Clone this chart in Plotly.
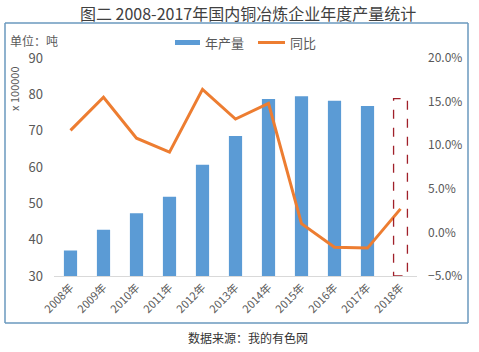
import plotly.graph_objects as go

years = ["2008年", "2009年", "2010年", "2011年", "2012年", "2013年",
         "2014年", "2015年", "2016年", "2017年", "2018年"]
production = [37.0, 42.7, 47.3, 51.8, 60.6, 68.5, 78.7, 79.5, 78.2, 76.8]  # x 100000 吨
yoy = [0.117, 0.155, 0.108, 0.092, 0.164, 0.130, 0.148, 0.010, -0.017, -0.018, 0.027]
estimate_2018 = 78.8

BLUE = "#5B9BD5"
ORANGE = "#ED7D31"
GRAY = "#595959"
CJK = "Noto Sans CJK SC"

W, H = 479, 352
L, R, T, B = 54, 62, 58, 76
pw, ph = W - L - R, H - T - B


def px(x):
    return (x - L) / pw


def py(y):
    return (H - B - y) / ph


fig = go.Figure()
fig.add_trace(go.Bar(x=years[:len(production)], y=production, marker_color=BLUE,
                     marker_line_width=0, width=0.4, name="年产量", yaxis="y"))
fig.add_trace(go.Scatter(x=years, y=yoy, mode="lines", line=dict(color=ORANGE, width=3),
                         name="同比", yaxis="y2"))

fig.update_layout(
    width=W, height=H,
    margin=dict(l=L, r=R, t=T, b=B),
    paper_bgcolor="white", plot_bgcolor="white",
    showlegend=False,
    font=dict(family=CJK, color=GRAY, size=13),
    xaxis=dict(categoryorder="array", categoryarray=years, range=[-0.5, len(years) - 0.5],
               tickangle=-45, tickfont=dict(size=11, color=GRAY), showgrid=False,
               showline=True, linecolor="#D9D9D9", linewidth=1, ticks="", zeroline=False),
    yaxis=dict(range=[30, 90], dtick=10, showgrid=False, zeroline=False, showline=False,
               tickfont=dict(size=13, color=GRAY), ticklabelstandoff=10),
    yaxis2=dict(range=[-0.05, 0.20], dtick=0.05, tickformat=".1%", overlaying="y", side="right",
                showgrid=False, zeroline=False, showline=False,
                tickfont=dict(size=12, color=GRAY), ticklabelstandoff=10),
    bargap=0.6,
)

frame_style = dict(color="#6A98BE", width=1.5)
fx0, fx1, fy0, fy1 = px(5), px(468), py(323), py(23)
shapes = [
    # outer frame (four edges)
    dict(type="line", xref="paper", yref="paper", x0=fx0, x1=fx1, y0=fy1, y1=fy1, line=frame_style),
    dict(type="line", xref="paper", yref="paper", x0=fx0, x1=fx1, y0=fy0, y1=fy0, line=frame_style),
    dict(type="line", xref="paper", yref="paper", x0=fx0, x1=fx0, y0=fy0, y1=fy1, line=frame_style),
    dict(type="line", xref="paper", yref="paper", x0=fx1, x1=fx1, y0=fy0, y1=fy1, line=frame_style),
    # highlight box for 2018
    dict(type="rect", xref="x", yref="y", x0=len(years) - 1 - 0.21, x1=len(years) - 1 + 0.21,
         y0=30, y1=estimate_2018, line=dict(color="#A0202A", width=1.3, dash="dash"),
         fillcolor="rgba(0,0,0,0)"),
    # custom legend symbols
    dict(type="rect", xref="paper", yref="paper", x0=px(175), x1=px(200), y0=py(45), y1=py(40),
         line=dict(width=0), fillcolor=BLUE),
    dict(type="line", xref="paper", yref="paper", x0=px(258), x1=px(285), y0=py(42.5), y1=py(42.5),
         line=dict(color=ORANGE, width=3)),
]
fig.update_layout(shapes=shapes)

ann = [
    dict(text="图二 2008-2017年国内铜冶炼企业年度产量统计", x=px(248), y=py(13),
         font=dict(size=16, color="#404040")),
    dict(text="年产量", x=px(203), y=py(42.5), xanchor="left", font=dict(size=13, color=GRAY)),
    dict(text="同比", x=px(288), y=py(42.5), xanchor="left", font=dict(size=13, color=GRAY)),
    dict(text="单位：吨", x=px(8), y=py(41), xanchor="left", font=dict(size=12, color=GRAY)),
    dict(text="x 100000", x=px(14), y=py(89), textangle=-90, font=dict(size=11, color=GRAY)),
    dict(text="数据来源：我的有色网", x=px(248), y=py(337), font=dict(size=12, color="#333333")),
]
for a in ann:
    a.update(xref="paper", yref="paper", showarrow=False)
    a.setdefault("xanchor", "center")
    a.setdefault("yanchor", "middle")
fig.update_layout(annotations=ann)

fig.write_html("out.html")
